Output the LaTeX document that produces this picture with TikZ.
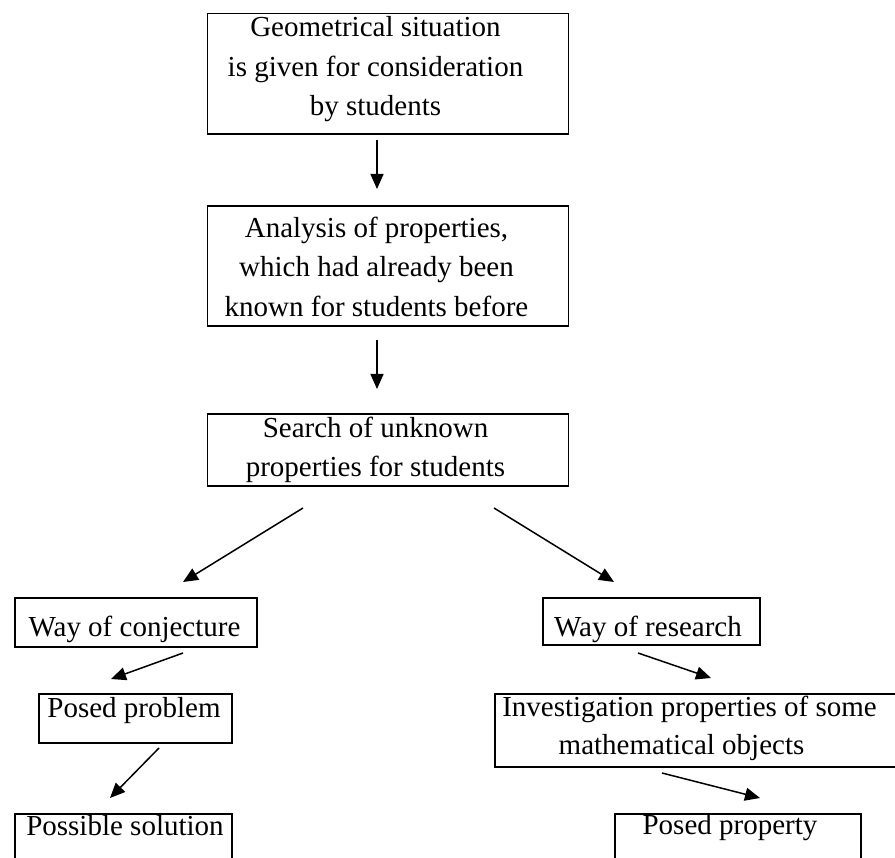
\documentclass[tikz,border=0pt]{standalone}
\usepackage{fontspec}
\setmainfont{Liberation Serif}
\usetikzlibrary{arrows.meta}
\begin{document}
\begin{tikzpicture}[x=1pt,y=-1pt,
  box/.style={draw, line width=1.6pt, inner sep=0pt, anchor=north west},
  txt/.style={inner sep=0pt, anchor=north, align=center, font=\fontsize{29}{#1}\selectfont},
  txt/.default=30,
  arr/.style={line width=1.5pt, -{Triangle[length=15pt,width=13pt]}}]
\useasboundingbox (0,0) rectangle (895,858);
\clip (0,0) rectangle (895,858);
% boxes
\node[box, minimum width=361pt, minimum height=120.5pt] (b1) at (206.5,12.7) {};
\node[box, minimum width=361pt, minimum height=120pt] (b2) at (206.5,205.5) {};
\node[box, minimum width=361pt, minimum height=72pt] (b3) at (206.5,413) {};
\node[box, minimum width=242pt, minimum height=49pt] (b4) at (14,597) {};
\node[box, minimum width=193pt, minimum height=49pt] (b5) at (38,693) {};
\node[box, minimum width=217pt, minimum height=70pt] (b6) at (14,813) {};
\node[box, minimum width=217pt, minimum height=47pt] (b7) at (542,597) {};
\node[box, minimum width=420pt, minimum height=73pt] (b8) at (494,693) {};
\node[box, minimum width=246pt, minimum height=70pt] (b9) at (614,813) {};
% texts
\node[txt=39.3] (t1) at (375.5,9.2) {\strut Geometrical situation\\is given for consideration\\by students};
\node[txt=39.3] (t2) at (376.5,209.8) {\strut Analysis of properties,\\which had already been\\known for students before};
\node[txt=39.3] (t3) at (375.5,409.5) {\strut Search of unknown\\properties for students};
\node[txt] (t4) at (134.5,615) {\strut Way of conjecture};
\node[txt] (t5) at (134,696) {\strut Posed problem};
\node[txt] (t6) at (125,814) {\strut Possible solution};
\node[txt] (t7) at (648,615) {\strut Way of research};
\node[txt=38.5] (t8) at (689.5,689) {\strut Investigation properties of some\\mathematical objects\hspace*{16pt}};
\node[txt] (t9) at (730,813) {\strut Posed property};
% arrow end points
\coordinate (a1s) at (377,140);  \coordinate (a1e) at (377,189);
\coordinate (a2s) at (377,340);  \coordinate (a2e) at (377,389);
\coordinate (a3s) at (303,508);  \coordinate (a3e) at (183,582);
\coordinate (a4s) at (494,508);  \coordinate (a4e) at (614,582);
\coordinate (a5s) at (183,653);  \coordinate (a5e) at (111,679);
\coordinate (a6s) at (159,748);  \coordinate (a6e) at (110,798);
\coordinate (a7s) at (638,653);  \coordinate (a7e) at (711,678);
\coordinate (a8s) at (662,773);  \coordinate (a8e) at (760,798);
\draw[arr] (a1s) -- (a1e);
\draw[arr] (a2s) -- (a2e);
\draw[arr] (a3s) -- (a3e);
\draw[arr] (a4s) -- (a4e);
\draw[arr] (a5s) -- (a5e);
\draw[arr] (a6s) -- (a6e);
\draw[arr] (a7s) -- (a7e);
\draw[arr] (a8s) -- (a8e);
\end{tikzpicture}
\end{document}
